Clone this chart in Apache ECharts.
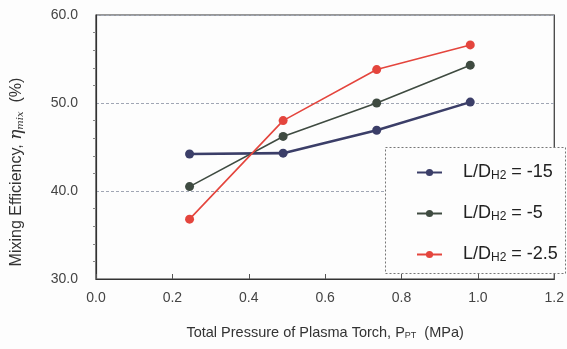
<!DOCTYPE html>
<html>
<head>
<meta charset="utf-8">
<script src="https://cdn.jsdelivr.net/npm/echarts@6/dist/echarts.min.js"></script>
<style>
html,body{margin:0;padding:0;background:#fdfdfd;}
#c{width:567px;height:349px;}
</style>
</head>
<body>
<div id="c"></div>
<script>
const pressure = [0.245, 0.49, 0.735, 0.98];
const seriesNames = ['L/DH2 = -15', 'L/DH2 = -5', 'L/DH2 = -2.5'];
const legendValues = ['-15', '-5', '-2.5'];
const eff_m15 = [44.2, 44.3, 46.9, 50.1];
const eff_m5 = [40.5, 46.2, 50.0, 54.3];
const eff_m25 = [36.8, 48.0, 53.8, 56.6];
const colors = ['#3b3e68', '#3f4b41', '#e4453d'];
const lineWidths = [2.6, 1.6, 1.6];

const allData = [eff_m15, eff_m5, eff_m25];
const font = 'Liberation Sans, Arial, sans-serif';

const chart = echarts.init(document.getElementById('c'), null, {renderer: 'canvas'});
const series = allData.map((vals, i) => ({
  name: seriesNames[i],
  type: 'line',
  data: vals.map((v, j) => [pressure[j], v]),
  symbol: 'circle',
  symbolSize: 9,
  color: colors[i],
  lineStyle: {color: colors[i], width: lineWidths[i]},
  itemStyle: {color: colors[i]},
  z: 3 + i,
  animation: false
}));

chart.setOption({
  backgroundColor: '#fdfdfd',
  animation: false,
  grid: {left: 93, right: 7, top: 15, bottom: 70, show: true, borderColor: '#333', borderWidth: 1.2, backgroundColor: 'transparent'},
  xAxis: {
    type: 'value', min: 0, max: 1.2, interval: 0.2,
    axisLine: {show: true, lineStyle: {color: '#333', width: 1.2}},
    axisTick: {show: true, inside: true, length: 5, lineStyle: {color: '#555'}},
    splitLine: {show: false},
    axisLabel: {formatter: v => v.toFixed(1), color: '#444', fontSize: 14, fontFamily: font, margin: 12},
    name: '{n|Total Pressure of Plasma Torch, P}{s|PT}{n|  (MPa)}',
    nameLocation: 'middle', nameGap: 46,
    nameTextStyle: {
      rich: {
        n: {fontSize: 14.5, color: '#333', fontFamily: font},
        s: {fontSize: 9, color: '#333', fontFamily: font, padding: [6, 0, 0, 0]}
      }
    }
  },
  yAxis: {
    type: 'value', min: 30, max: 60, interval: 10,
    axisLine: {show: true, lineStyle: {color: '#333', width: 1.2}},
    axisTick: {show: false},
    minorTick: {show: true, splitNumber: 5, length: 3, lineStyle: {color: '#888'}},
    splitLine: {show: true, lineStyle: {color: '#a0a6b4', width: 1, type: [3, 2]}},
    axisLabel: {formatter: v => v.toFixed(1), color: '#444', fontSize: 14, fontFamily: font, margin: 18},
    name: '{n|Mixing Efficiency, }{i|η}{s|mix}{n|  (%)}',
    nameLocation: 'middle', nameGap: 71, nameRotate: 90,
    nameTextStyle: {
      padding: [0, 50, 0, 0],
      rich: {
        n: {fontSize: 16, color: '#333', fontFamily: font},
        i: {fontSize: 17, color: '#333', fontFamily: 'DejaVu Serif, serif', fontStyle: 'italic'},
        s: {fontSize: 10, color: '#333', fontFamily: 'DejaVu Serif, serif', fontStyle: 'italic', padding: [7, 0, 0, 0]}
      }
    }
  },
  graphic: [{
    type: 'rect', left: 385, top: 147, z: 10,
    shape: {width: 180, height: 126},
    style: {fill: '#fdfdfd', stroke: '#777', lineWidth: 1, lineDash: [2, 2]}
  }],
  legend: {
    orient: 'vertical', left: 416, top: 163, z: 20,
    itemWidth: 25, itemHeight: 9, itemGap: 22, padding: 0,
    data: seriesNames,
    formatter: name => {
      const k = seriesNames.indexOf(name);
      return '{a|L/D}{b|H2}{a| = ' + legendValues[k] + '}';
    },
    textStyle: {
      padding: [0, 0, 0, 16],
      rich: {
        a: {fontSize: 18, color: '#222', fontFamily: font, lineHeight: 22},
        b: {fontSize: 12, color: '#222', fontFamily: font, padding: [7, 0, 0, 0], lineHeight: 22}
      }
    }
  },
  series: series
});
</script>
</body>
</html>
